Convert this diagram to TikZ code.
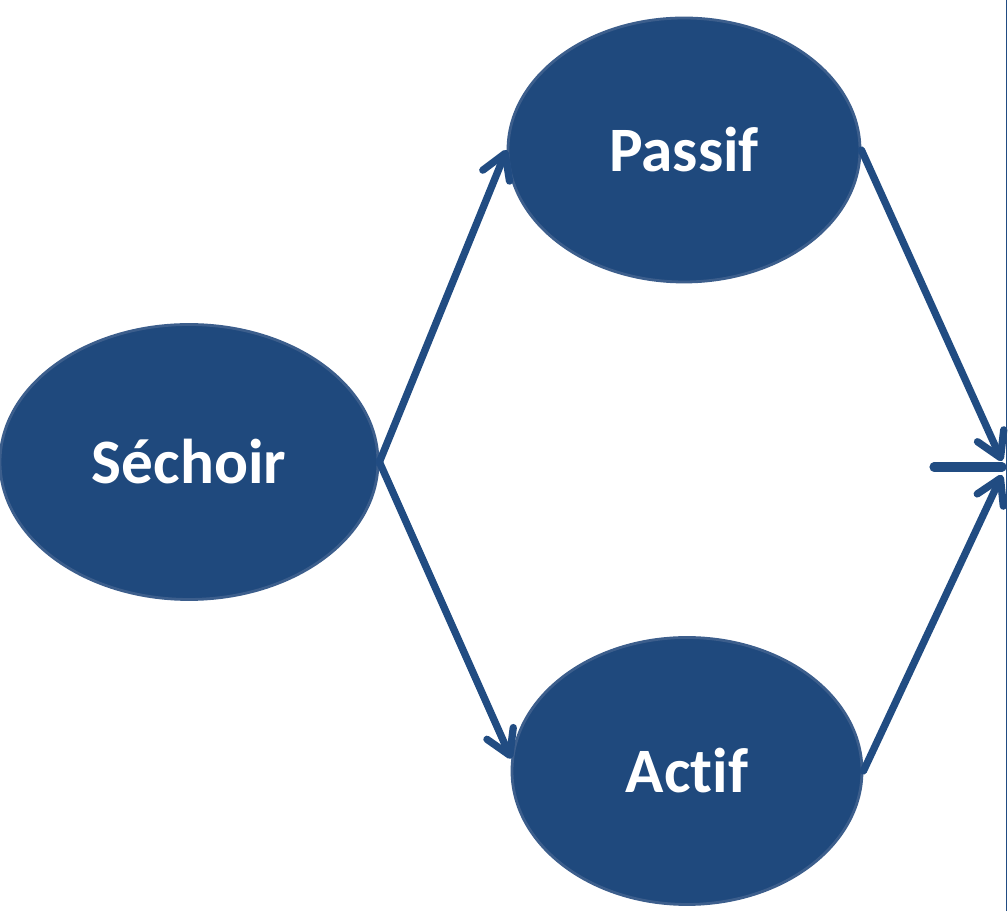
\documentclass[tikz,border=0pt]{standalone}
\usepackage{fontspec}
\setmainfont{Carlito}[Ligatures=NoCommon]
\usetikzlibrary{shapes.geometric}
\usetikzlibrary{arrows.meta}
\usetikzlibrary{calc}

\definecolor{boxblue}{RGB}{31,73,125}
\definecolor{rimblue}{RGB}{60,94,140}
\definecolor{lineblue}{RGB}{33,76,130}

\begin{document}
\begin{tikzpicture}[
  blob/.style={ellipse, draw=rimblue, line width=2pt, fill=boxblue, inner sep=0pt,
    text=white, font=\fontsize{45}{50}\selectfont\bfseries},
  flow/.style={draw=lineblue, line width=5.2pt, line cap=round,
    -{Straight Barb[length=0.6cm, width=0.72cm, round]}}
]

\useasboundingbox (0,0) rectangle (25.2cm, 22.775cm);

\node[blob, minimum width=9.45cm, minimum height=6.875cm] (SECH) at (4.725cm, 11.225cm) {Séchoir};
\node[blob, minimum width=8.8cm, minimum height=6.6cm] (PASS) at (17.1cm, 19.025cm) {Passif};
\node[blob, minimum width=8.75cm, minimum height=6.675cm] (ACT) at (17.175cm, 3.5cm) {Actif};

\coordinate (OUT)  at (25.05cm, 11.1cm);
\coordinate (STUB) at (23.35cm, 11.1cm);

% edge of the cut-off panel on the right
\draw[lineblue, line width=1.2pt] (25.16cm, 0) -- (25.16cm, 22.775cm);

\draw[flow] (SECH.east) -- (PASS.west);
\draw[flow] (SECH.east) -- (ACT.176);
\draw[flow] (PASS.east) -- ($(OUT)+(0,0.15cm)$);
\draw[flow] (ACT.east) -- ($(OUT)+(0,-0.2cm)$);
\draw[lineblue, line width=6.5pt, line cap=round] (STUB) -- (OUT);

\end{tikzpicture}
\end{document}
